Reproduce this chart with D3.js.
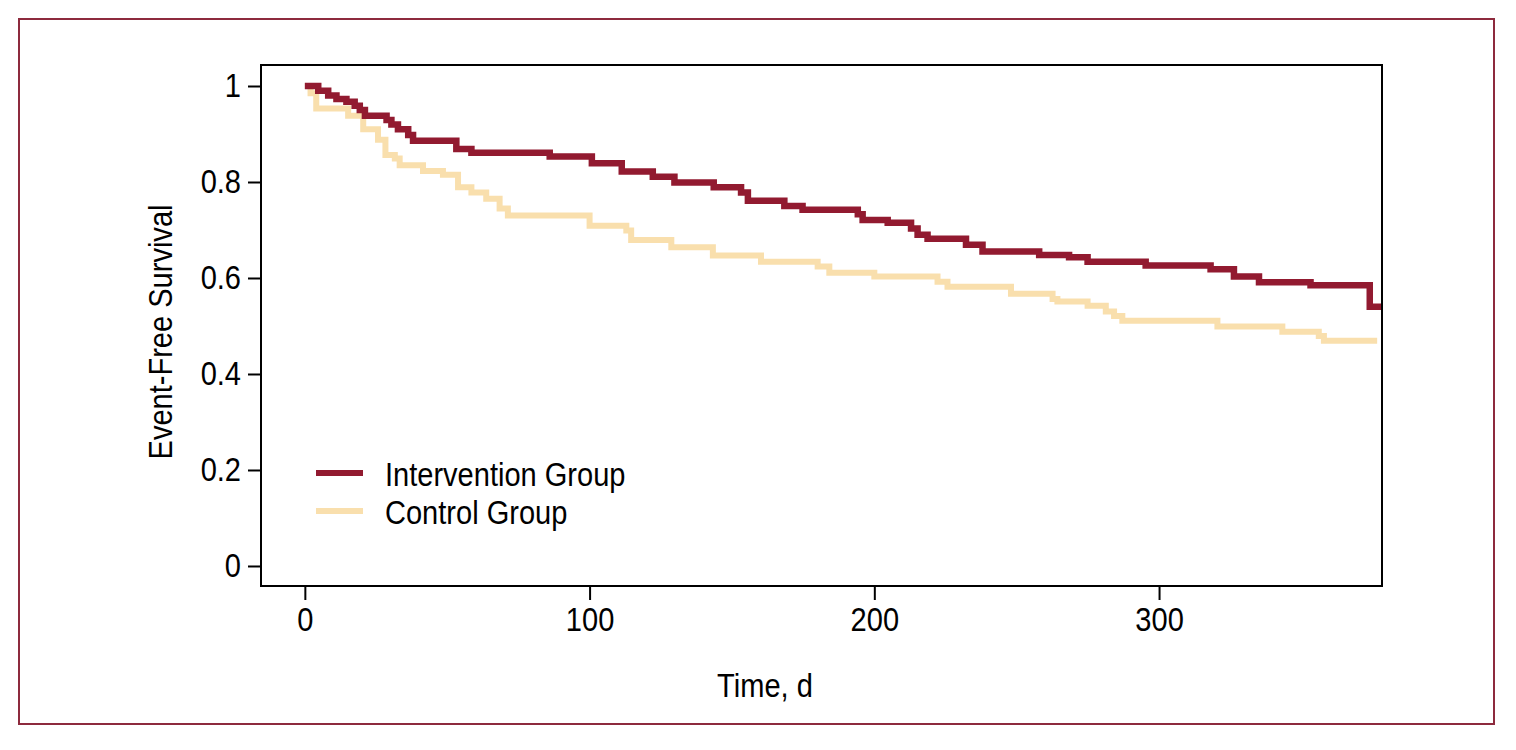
<!DOCTYPE html>
<html>
<head>
<meta charset="utf-8">
<script src="https://cdn.jsdelivr.net/npm/d3@7"></script>
<style>
  body { margin: 0; background: #fff; }
  text { font-family: "Liberation Sans", Arial, sans-serif; }
</style>
</head>
<body>
<div id="chart"></div>
<script>
// Kaplan-Meier steps (time in days, survival)
const interventionTime = [0, 4.7, 8.2, 11.1, 14.6, 17.5, 19.3, 21.1, 28.7, 30.4, 32.7, 36.3, 38.0, 53.2, 58.5, 86, 100.8, 111.3, 122.2, 129.8, 143.6, 153.2, 155.6, 168.4, 174.8, 194.2, 195.9, 204.7, 212.9, 215.2, 218.7, 232.2, 238, 257.9, 268.4, 274.9, 295.3, 318.1, 326.3, 335.1, 353.2, 374, 378.3]
const interventionSurv = [1, 0.990, 0.980, 0.973, 0.967, 0.959, 0.950, 0.938, 0.929, 0.920, 0.910, 0.898, 0.886, 0.869, 0.861, 0.853, 0.839, 0.822, 0.811, 0.799, 0.789, 0.778, 0.761, 0.750, 0.742, 0.733, 0.721, 0.715, 0.703, 0.690, 0.682, 0.669, 0.655, 0.648, 0.643, 0.634, 0.626, 0.618, 0.603, 0.591, 0.585, 0.540, 0.540]

const controlTime = [0, 2, 4, 15.2, 20.5, 25.7, 28.3, 31.6, 33.3, 41.5, 48.5, 53.8, 58.5, 63.7, 68.4, 71.3, 100, 112.9, 114.6, 128.7, 143.3, 160.2, 180.1, 184.2, 200, 222.2, 225.7, 248, 262.6, 264.3, 274.9, 281.3, 284.2, 287.1, 320.5, 343.3, 356.1, 357.9, 376.6]
const controlSurv = [1, 0.985, 0.953, 0.938, 0.910, 0.888, 0.856, 0.849, 0.835, 0.823, 0.815, 0.789, 0.778, 0.765, 0.745, 0.730, 0.709, 0.699, 0.679, 0.664, 0.647, 0.634, 0.624, 0.611, 0.603, 0.592, 0.582, 0.567, 0.556, 0.551, 0.542, 0.530, 0.521, 0.511, 0.499, 0.488, 0.479, 0.469, 0.469]

const xTicks = [0, 100, 200, 300]
const yTicks = [0, 0.2, 0.4, 0.6, 0.8, 1]
const yTickLabels = ['0', '0.2', '0.4', '0.6', '0.8', '1']
const seriesNames = ['Intervention Group', 'Control Group']

const WIDTH = 1516
const HEIGHT = 750
const PLOT_LEFT = 261
const PLOT_RIGHT = 1382
const PLOT_TOP = 65
const PLOT_BOTTOM = 586
const FONT = 33
const SQUEEZE = 0.88 // police etroite : on compresse horizontalement
const COLORS = ['#921a30', '#f9dfad']

// compresse un texte en largeur sans bouger son point d'ancrage
function condense(sel) {
    sel.each(function () {
        const t = d3.select(this)
        const x = +t.attr('x') || 0
        t.attr('x', x / SQUEEZE)
            .attr('transform', `${t.attr('transform') || ''} scale(${SQUEEZE},1)`)
    })
}

const svg = d3.select('#chart').append('svg').attr('width', WIDTH).attr('height', HEIGHT)

// cadre exterieur
svg.append('rect')
    .attr('x', 19).attr('y', 19)
    .attr('width', 1475).attr('height', 705)
    .attr('fill', 'none')
    .attr('stroke', '#8d2a3d')
    .attr('stroke-width', 2)

const xScale = d3.scaleLinear()
    .domain([-15.4, 378.3])
    .range([PLOT_LEFT, PLOT_RIGHT])

const yScale = d3.scaleLinear()
    .domain([-0.0417, 1.04375])
    .range([PLOT_BOTTOM, PLOT_TOP])

const toPoints = (times, surv) => times.map((t, i) => [t, surv[i]])

const line = d3.line()
    .x(d => xScale(d[0]))
    .y(d => yScale(d[1]))
    .curve(d3.curveStepAfter)

const plot = svg.append('g')

// control d'abord, intervention par dessus
plot.append('path')
    .datum(toPoints(controlTime, controlSurv))
    .attr('d', line)
    .attr('fill', 'none')
    .attr('stroke', COLORS[1])
    .attr('stroke-width', 6)

plot.append('path')
    .datum(toPoints(interventionTime, interventionSurv))
    .attr('d', line)
    .attr('fill', 'none')
    .attr('stroke', COLORS[0])
    .attr('stroke-width', 6.5)

// boite du graphique
svg.append('rect')
    .attr('x', PLOT_LEFT).attr('y', PLOT_TOP)
    .attr('width', PLOT_RIGHT - PLOT_LEFT).attr('height', PLOT_BOTTOM - PLOT_TOP)
    .attr('fill', 'none')
    .attr('stroke', '#000')
    .attr('stroke-width', 2)

const axisY = d3.axisLeft(yScale)
    .tickValues(yTicks)
    .tickFormat((d, i) => yTickLabels[i])
    .tickSize(13)
    .tickPadding(7)

const gy = svg.append('g')
    .attr('transform', `translate(${PLOT_LEFT}, 0)`)
    .call(axisY)
gy.select('.domain').remove()
gy.selectAll('line').attr('stroke', '#000').attr('stroke-width', 2)
gy.selectAll('text').attr('font-size', FONT).attr('fill', '#000')
    .style('font-family', '"Liberation Sans", Arial, sans-serif')
    .call(condense)

const axisX = d3.axisBottom(xScale)
    .tickValues(xTicks)
    .tickSize(14)
    .tickPadding(8)

const gx = svg.append('g')
    .attr('transform', `translate(0, ${PLOT_BOTTOM})`)
    .call(axisX)
gx.select('.domain').remove()
gx.selectAll('line').attr('stroke', '#000').attr('stroke-width', 2)
gx.selectAll('text').attr('font-size', FONT).attr('fill', '#000')
    .style('font-family', '"Liberation Sans", Arial, sans-serif')
    .call(condense)

// titres des axes
svg.append('text')
    .attr('transform', 'rotate(-90)')
    .attr('x', -332)
    .attr('y', 172)
    .attr('text-anchor', 'middle')
    .attr('font-size', FONT)
    .text('Event-Free Survival')
    .call(condense)

svg.append('text')
    .attr('x', 765)
    .attr('y', 697)
    .attr('text-anchor', 'middle')
    .attr('font-size', FONT)
    .text('Time, d')
    .call(condense)

// legende
const legend = svg.append('g')
seriesNames.forEach((name, i) => {
    const y = 473 + i * 38
    legend.append('line')
        .attr('x1', 316).attr('x2', 363)
        .attr('y1', y).attr('y2', y)
        .attr('stroke', COLORS[i])
        .attr('stroke-width', 6)
    legend.append('text')
        .attr('x', 385)
        .attr('y', y + 13)
        .attr('font-size', FONT)
        .text(name)
        .call(condense)
})
</script>
</body>
</html>
